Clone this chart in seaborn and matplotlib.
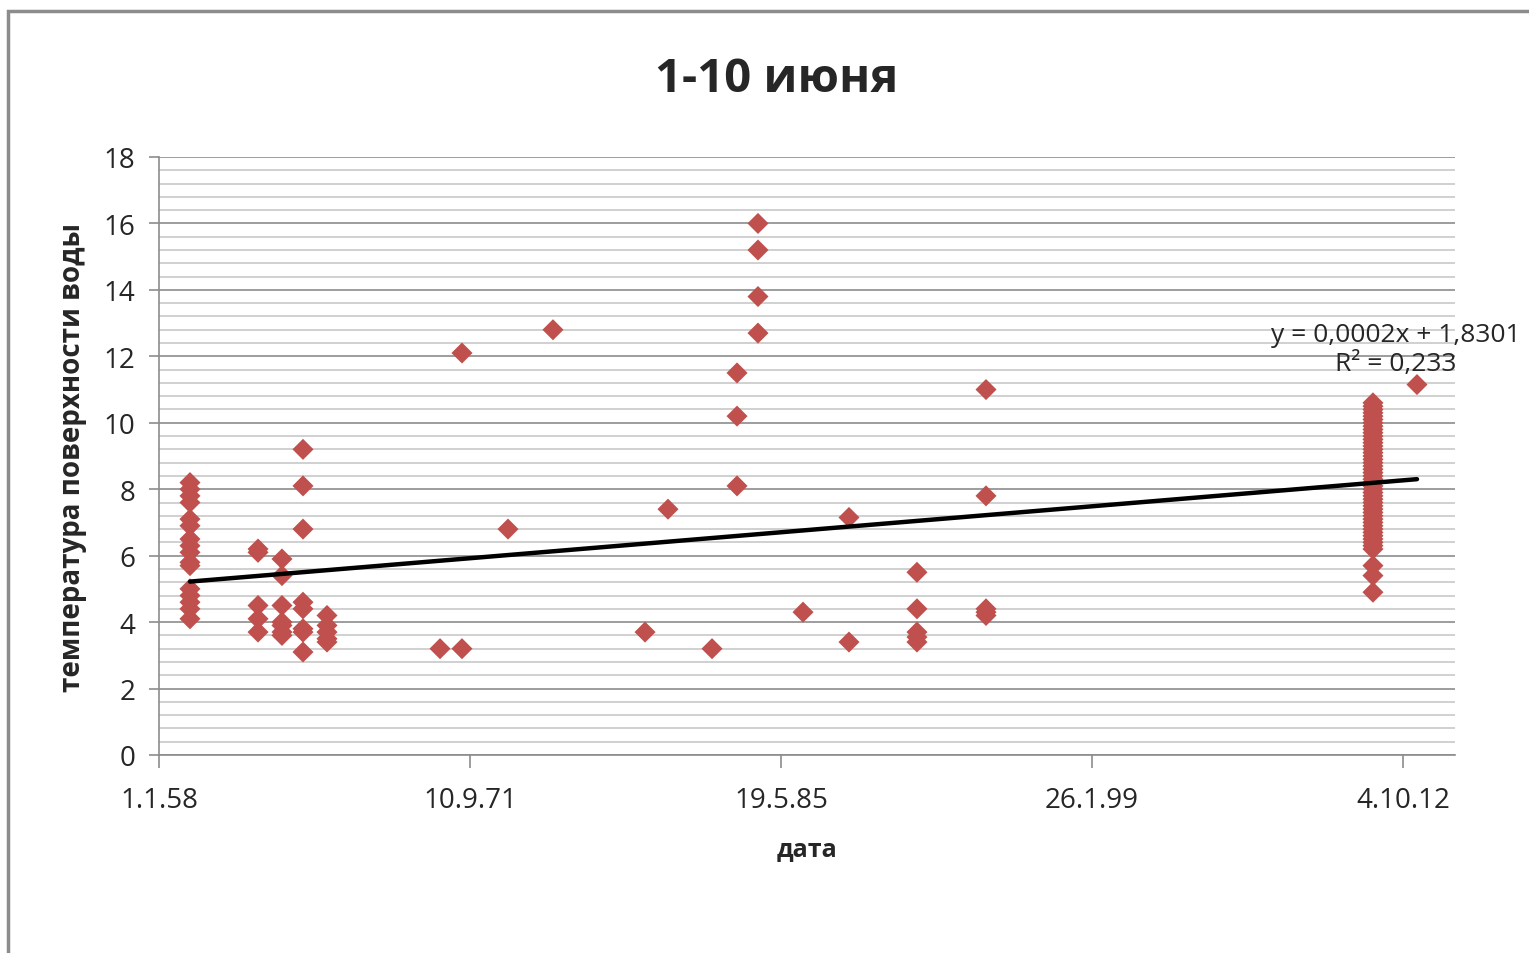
import datetime as dt
import numpy as np
import pandas as pd
import seaborn as sns
import matplotlib.pyplot as plt
from matplotlib.ticker import MultipleLocator, FuncFormatter
from matplotlib.patches import Rectangle

# Excel serial dates (days since 30.12.1899) and water surface temperatures
group_dates = [21684, 22778, 23163, 23501, 23887, 25704, 26057, 26797, 27520,
               29000, 29369, 30077, 30479, 30816, 31540, 32279, 33372, 34482,
               40703, 41411]
group_temps = [
    [8.2, 8.0, 7.8, 7.6, 7.1, 6.9, 6.5, 6.3, 6.1, 5.8, 5.7, 5.0, 4.8, 4.6, 4.4, 4.1],
    [6.2, 6.1, 4.5, 4.1, 3.7],
    [5.9, 5.4, 4.5, 4.0, 3.9, 3.7, 3.6],
    [9.2, 8.1, 6.8, 4.6, 4.4, 3.8, 3.7, 3.1],
    [4.2, 3.9, 3.7, 3.5, 3.4],
    [3.2],
    [12.1, 3.2],
    [6.8],
    [12.8],
    [3.7],
    [7.4],
    [3.2],
    [11.5, 10.2, 8.1],
    [16.0, 15.2, 13.8, 12.7],
    [4.3],
    [7.15, 3.4],
    [5.5, 4.4, 3.7, 3.55, 3.4],
    [11.0, 7.8, 4.4, 4.3, 4.2],
    [10.6, 10.5, 10.4, 10.3, 10.2, 10.1, 10.0, 9.9, 9.8, 9.7, 9.6, 9.5, 9.4,
     9.3, 9.2, 9.1, 9.0, 8.9, 8.8, 8.7, 8.6, 8.5, 8.4, 8.3, 8.2, 8.1, 8.0, 7.9,
     7.8, 7.7, 7.6, 7.5, 7.4, 7.3, 7.2, 7.1, 7.0, 6.9, 6.8, 6.7, 6.6, 6.5, 6.4,
     6.3, 6.2, 5.7, 5.4, 4.9],
    [11.15],
]

# linear trend as printed on the chart
trend_slope = 0.0001563
trend_intercept = 1.8301
trend_label = "y = 0,0002x + 1,8301\nR² = 0,233"

x_ticks = [21186, 26186, 31186, 36186, 41186]

rows = [(d, t) for d, temps in zip(group_dates, group_temps) for t in temps]
df = pd.DataFrame(rows, columns=["date", "temp"])

sns.set_theme(style="white")
plt.rcParams["font.family"] = ["Open Sans", "DejaVu Sans"]

fig = plt.figure(figsize=(15.29, 9.54), dpi=100)
ax = fig.add_axes([159 / 1529, 1 - 756 / 954, (1455 - 159) / 1529, (756 - 158) / 954])

sns.scatterplot(data=df, x="date", y="temp", marker="D", s=115,
                color="#C0504D", edgecolor="none", ax=ax, zorder=3)

trend_x = np.array([df["date"].min(), df["date"].max()])
sns.lineplot(x=trend_x, y=trend_slope * trend_x + trend_intercept,
             color="black", linewidth=3.2, ax=ax, zorder=4)

ax.set_xlim(21186, 42022)
ax.set_ylim(0, 18)
ax.set_xticks(x_ticks)
ax.yaxis.set_major_locator(MultipleLocator(2))
ax.yaxis.set_minor_locator(MultipleLocator(0.4))

base = dt.date(1899, 12, 30)


def fmt_date(v, pos):
    d = base + dt.timedelta(days=int(round(v)))
    return f"{d.day}.{d.month}.{d.year % 100:02d}"


ax.xaxis.set_major_formatter(FuncFormatter(fmt_date))

ax.grid(axis="y", which="major", color="#8C8C8C", linewidth=1.2, zorder=0)
ax.grid(axis="y", which="minor", color="#C8C8C8", linewidth=1.2, zorder=0)
ax.grid(axis="x", visible=False)
ax.set_axisbelow(True)

for side in ["top", "right"]:
    ax.spines[side].set_visible(False)
for side in ["left", "bottom"]:
    ax.spines[side].set_color("#8C8C8C")
    ax.spines[side].set_linewidth(1.2)

ax.tick_params(axis="y", which="major", direction="out", length=7, width=1.2,
               color="#8C8C8C", pad=10, labelsize=20, left=True)
ax.tick_params(axis="y", which="minor", length=0)
ax.tick_params(axis="x", which="major", direction="out", length=9, width=1.2,
               color="#8C8C8C", pad=13, labelsize=20, bottom=True)

ax.set_xlabel("дата", fontsize=18, fontweight="bold", labelpad=16)
ax.set_ylabel("температура поверхности воды", fontsize=20, fontweight="bold", labelpad=12)

fig.text(777 / 1529, 1 - 80 / 954, "1-10 июня", ha="center", va="center",
         fontsize=34, fontweight="bold")
fig.text(1396 / 1529, 1 - 350 / 954, trend_label, ha="center", va="center",
         fontsize=19, linespacing=1.2)

fig.patches.append(Rectangle((8 / 1529, -0.2), 1.5, 1.2 - 12 / 954,
                             transform=fig.transFigure, fill=False,
                             edgecolor="#8C8C8C", linewidth=2.5))

fig.savefig("out.png", dpi=100)
